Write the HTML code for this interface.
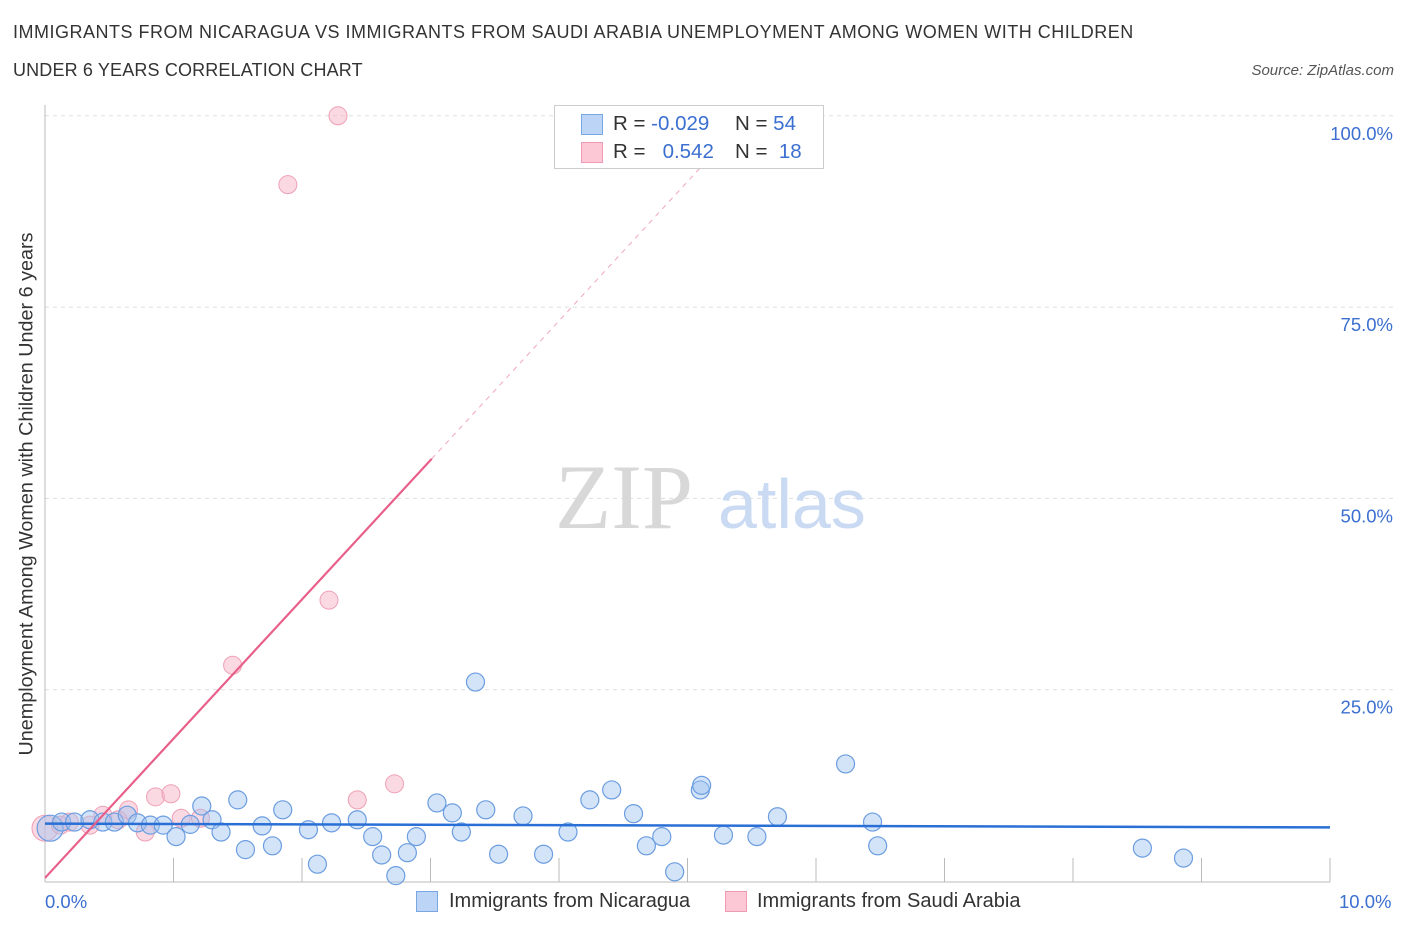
<!DOCTYPE html>
<html><head><meta charset="utf-8"><style>
body{margin:0;background:#fff;font-family:"Liberation Sans",sans-serif;}
#w{position:relative;width:1406px;height:930px;overflow:hidden}
.t{position:absolute;white-space:nowrap}
</style></head><body>
<div id="w">
<div class="t" style="left:13px;top:22px;font-size:18px;color:#333;letter-spacing:0.5px">IMMIGRANTS FROM NICARAGUA VS IMMIGRANTS FROM SAUDI ARABIA UNEMPLOYMENT AMONG WOMEN WITH CHILDREN</div>
<div class="t" style="left:13px;top:60px;font-size:18px;color:#333;letter-spacing:0.15px">UNDER 6 YEARS CORRELATION CHART</div>
<div class="t" style="right:12px;top:62px;font-size:15px;color:#555;font-style:italic">Source: ZipAtlas.com</div>
<svg id="s" width="1406" height="930" style="position:absolute;left:0;top:0"></svg>
</div>
<script>
const blueX=[0.04,0.13,0.23,0.35,0.45,0.54,0.64,0.72,0.82,0.92,1.02,1.13,1.22,1.30,1.37,1.50,1.56,1.69,1.77,1.85,2.05,2.12,2.23,2.43,2.55,2.62,2.73,2.82,2.89,3.05,3.17,3.24,3.35,3.43,3.53,3.72,3.88,4.07,4.24,4.41,4.58,4.68,4.80,4.90,5.10,5.11,5.28,5.54,5.70,6.23,6.44,6.48,8.54,8.86];
const blueY=[6.9,7.7,7.7,8.0,7.7,7.7,8.6,7.6,7.3,7.3,5.8,7.4,9.8,8.0,6.4,10.6,4.1,7.2,4.6,9.3,6.7,2.2,7.6,8.0,5.8,3.4,0.7,3.7,5.8,10.2,8.9,6.4,26.0,9.3,3.5,8.5,3.5,6.4,10.6,11.9,8.8,4.6,5.8,1.2,11.9,12.5,6.0,5.8,8.4,15.3,7.7,4.6,4.3,3.0];
const pinkX=[0,0.12,0.35,0.45,0.57,0.65,0.78,0.86,0.98,1.06,1.21,1.46,1.89,2.21,2.28,2.43,2.72,0.19];
const pinkY=[6.9,7.3,7.3,8.6,8.0,9.3,6.4,11.0,11.4,8.2,8.2,28.2,91.0,36.7,100.0,10.6,12.7,7.7];
const yTicks=[25,50,75,100];
const yTickLabels=["25.0%","50.0%","75.0%","100.0%"];
const blueTrend=[7.5,7.0];
const pinkTrend=[0.4,18.2];
const NS="http://www.w3.org/2000/svg";
const s=document.getElementById('s');
const X=v=>45+v*128.5, Y=v=>881-v*7.652;
function mk(tag,a,parent){const e=document.createElementNS(NS,tag);for(const k in a)e.setAttribute(k,a[k]);(parent||s).appendChild(e);return e;}
yTicks.forEach((t,i)=>{
 const g=mk('line',{x1:45,x2:1393,y1:Y(t),y2:Y(t),stroke:'#ddd','stroke-dasharray':'4,4'});
 
 
 const l=mk('text',{x:1393,y:Y(t)+24,'text-anchor':'end','font-size':18.5,fill:'#3b6fd0','font-family':'Liberation Sans'});
 l.textContent=yTickLabels[i];
 
 
});
const ax=mk('line',{x1:45,x2:45,y1:105,y2:882,stroke:'#bbb'});


const bx=mk('line',{x1:45,x2:1330,y1:882,y2:882,stroke:'#bbb'});


for(let i=1;i<=10;i++){const tk=mk('line',{x1:X(i),x2:X(i),y1:858,y2:882,stroke:'#bbb'});
 
 }
const wm=mk('text',{x:555,y:528,'font-size':92,fill:'#d8d8d8','font-family':'Liberation Serif'});wm.textContent='ZIP';


const wm2=mk('text',{x:718,y:528,'font-size':70,fill:'#c9daf2','font-family':'Liberation Sans'});wm2.textContent='atlas';


pinkX.forEach((x,i)=>{const c=mk('circle',{cx:X(x),cy:Y(pinkY[i]),r:i==0?13:9,fill:'rgba(248,180,200,0.5)',stroke:'#eea0b5','stroke-width':1});
 
 });
blueX.forEach((x,i)=>{const c=mk('circle',{cx:X(x),cy:Y(blueY[i]),r:i==0?13:9,fill:'rgba(160,195,240,0.45)',stroke:'#6b9de0','stroke-width':1.2});
 
 });
const bt=mk('line',{x1:X(0),x2:X(10),y1:Y(blueTrend[0]),y2:Y(blueTrend[1]),stroke:'#2a6fd6','stroke-width':2.5});


const pt=mk('line',{x1:X(0),x2:X(3.01),y1:Y(pinkTrend[0]),y2:Y(pinkTrend[0]+pinkTrend[1]*3.01),stroke:'#e8608a','stroke-width':2.2});


const pd=mk('line',{x1:X(3.01),x2:X(5.2),y1:Y(pinkTrend[0]+pinkTrend[1]*3.01),y2:Y(pinkTrend[0]+pinkTrend[1]*5.2),stroke:'#f0a6be','stroke-width':1,'stroke-dasharray':'5,5'});


</script>
<div style="position:absolute;left:554px;top:105px;width:268px;height:62px;border:1px solid #ccc;background:#fff;font-size:20.5px">
 <div style="position:absolute;left:26px;top:8px;width:20px;height:19px;background:#bcd4f6;border:1px solid #7ba6e4"></div>
 <div class="t" style="left:58px;top:6px;color:#333">R = <span style="color:#3b6fd0">-0.029</span></div>
 <div class="t" style="left:180px;top:6px;color:#333">N = <span style="color:#3b6fd0">54</span></div>
 <div style="position:absolute;left:26px;top:36px;width:20px;height:19px;background:#fcc8d6;border:1px solid #ee9ab2"></div>
 <div class="t" style="left:58px;top:34px;color:#333">R = &nbsp;&nbsp;<span style="color:#3b6fd0">0.542</span></div>
 <div class="t" style="left:180px;top:34px;color:#333">N = &nbsp;<span style="color:#3b6fd0">18</span></div>
</div>
<div class="t" style="left:45px;top:891px;font-size:18.5px;color:#3b6fd0">0.0%</div>
<div class="t" style="left:1339px;top:891px;font-size:18.5px;color:#3b6fd0">10.0%</div>
<div class="t" style="left:-223px;top:494px;font-size:19.8px;color:#333;transform:rotate(-90deg);width:500px;text-align:center">Unemployment Among Women with Children Under 6 years</div>
<div style="position:absolute;left:416px;top:891px;width:20px;height:19px;background:#bcd4f6;border:1px solid #7ba6e4"></div>
<div class="t" style="left:449px;top:890px;font-size:20px;color:#333">Immigrants from Nicaragua</div>
<div style="position:absolute;left:725px;top:891px;width:20px;height:19px;background:#fcc8d6;border:1px solid #ee9ab2"></div>
<div class="t" style="left:757px;top:890px;font-size:20px;color:#333">Immigrants from Saudi Arabia</div>
</body></html>
